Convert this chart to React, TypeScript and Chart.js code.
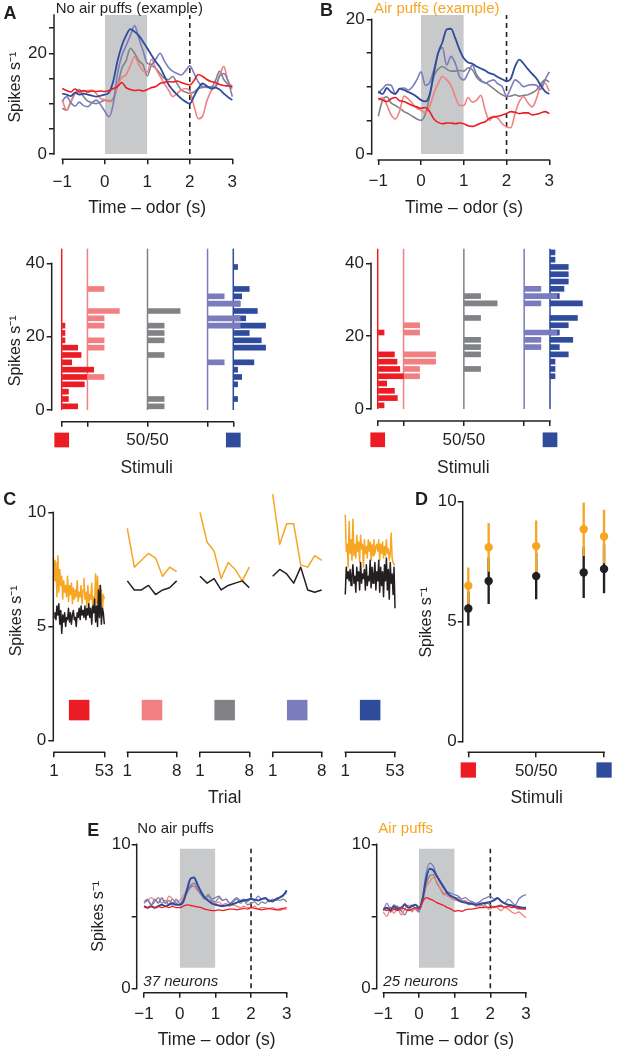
import React, { useEffect, useRef } from 'react';
import { Chart, registerables } from 'chart.js';

Chart.register(...registerables);

const FAMILY = '"Liberation Sans", Arial, Helvetica, sans-serif';
Chart.defaults.font.family = FAMILY;
Chart.defaults.color = '#231F20';

// ---------- colours ----------
const INK = '#231F20';
const RED = '#EC1C24';
const PINK = '#F27F81';
const GRAY = '#808285';
const LAV = '#7B7CBD';
const BLUE = '#2E4B9C';
const ORANGE = '#F6A623';
const BOX = '#C8C9CB';

// ---------- shared categories ----------
const TIME = [-1, -0.9, -0.8, -0.7, -0.6, -0.5, -0.4, -0.3, -0.2, -0.1, 0, 0.1, 0.2, 0.3, 0.4, 0.5, 0.6, 0.7, 0.8, 0.9, 1, 1.1, 1.2, 1.3, 1.4, 1.5, 1.6, 1.7, 1.8, 1.9, 2, 2.1, 2.2, 2.3, 2.4, 2.5, 2.6, 2.7, 2.8, 2.9, 3];
const TIME_TICKS = [-1, 0, 1, 2, 3];
const TIME_LABELS = ['\u22121', '0', '1', '2', '3'];
const ODOR_WINDOW = [0, 1];
const TRACE_END = 2;
const STIM_MIX = [0, 15, 50, 85, 100];
const STIM_LABELS = ['', '', '50/50', '', ''];

// ---------- panel A (no air puffs, example) ----------
const A_RED = [13, 12.6, 12.3, 12.9, 12.4, 12.6, 12.3, 12.5, 12.4, 12.5, 12.4, 12.6, 13, 13.4, 14.2, 13.2, 12.8, 12.6, 12.7, 12.5, 12.8, 13.2, 13.4, 14, 14.2, 14.4, 14.3, 14.5, 14.2, 13.9, 13.7, 14.6, 15.8, 15.4, 14.8, 14.4, 14.2, 13.8, 13.6, 13.5, 13.4];
const A_PINK = [10.7, 8.7, 10.4, 12, 12.2, 12.4, 12.6, 12.7, 12, 11, 10.8, 10.4, 10.7, 13.5, 15.2, 15.7, 17.5, 19.3, 17.8, 16.5, 16.3, 18.8, 17, 15.4, 14, 12.7, 11.4, 12, 12.7, 13, 12.5, 9.5, 7, 7.5, 10.5, 12.5, 13.5, 15.5, 17.4, 14.4, 13.4];
const A_GRAY = [9.1, 8.7, 10.3, 12, 12.8, 11.4, 10.5, 10.2, 10, 10.3, 10.7, 10.5, 11, 13.5, 17, 18.5, 21, 20, 18.5, 17.7, 15.5, 17.5, 17, 16, 15, 14.8, 15.4, 14, 12.7, 12.3, 12, 12.3, 13, 13.2, 13.4, 13.2, 14.5, 16.4, 14.8, 13.8, 13];
const A_LAV = [10.5, 11.4, 10.2, 9.5, 10.3, 9.6, 9.4, 10.2, 10.7, 9.8, 8.5, 7.4, 10, 16, 19.5, 21.5, 23.5, 25.5, 23, 20.5, 18, 17.8, 18.8, 20, 18.5, 17.2, 16.4, 16, 15.7, 16.5, 17.5, 16, 14.3, 13.4, 13.2, 13.4, 13.2, 15.5, 16, 14.5, 11.4];
const A_BLUE = [12, 11.8, 11.5, 12.2, 11.8, 12, 11.8, 11.6, 11.4, 11.6, 11.8, 12.2, 14.5, 18.5, 21.5, 23.5, 24.8, 24.3, 23.5, 22.3, 21, 19.6, 18.3, 17.2, 15.5, 13.8, 12.7, 11.8, 11, 10.4, 10, 11.5, 13, 14, 13.5, 13, 13.2, 12.8, 12, 11.3, 10.7];

// ---------- panel B (air puffs, example) ----------
const B_RED = [8.3, 8, 7.8, 8.2, 8.4, 7.9, 7.8, 7.5, 7.2, 7, 6.8, 6.9, 6.3, 5.2, 4.7, 4.5, 4.6, 4.6, 4.5, 4.6, 4.5, 4.2, 4.1, 4.3, 4.6, 4.8, 5.3, 5.5, 5.6, 5.8, 6, 6.3, 6.2, 6, 6.1, 6.1, 5.8, 5.9, 6.1, 6.3, 6];
const B_PINK = [8, 8.4, 7.3, 5.8, 5.2, 6.4, 8.6, 8.2, 7.5, 6.8, 6.5, 6.1, 7, 9, 10.5, 11.5, 11, 10.2, 8.5, 7.2, 7.2, 8.4, 7.7, 8, 8.7, 6.5, 5, 5.6, 5.3, 4.5, 4, 3.9, 6, 7.8, 8.5, 7.6, 7, 8.2, 10.2, 10.5, 9.3];
const B_GRAY = [5.6, 8, 8.5, 7.6, 7.2, 6.8, 6.3, 6, 5.6, 5.2, 5, 5.9, 8.5, 11.5, 12.6, 13, 12.6, 12.3, 12.3, 12.4, 12.3, 12.8, 12.5, 11.4, 10.8, 10.6, 10.2, 9.7, 9.2, 8.8, 8.5, 8.6, 8.8, 8.6, 8.7, 8.8, 9.1, 9.5, 10.4, 11, 10.7];
const B_LAV = [9, 9.7, 10.3, 10.2, 9, 9.7, 9.8, 9.5, 10, 11, 12.2, 10.2, 10.6, 12.5, 15, 15.8, 13.2, 14.5, 13.5, 11.5, 11, 12, 13.2, 11.8, 11, 10.5, 10.8, 11, 10.4, 10, 8.6, 9.8, 11, 10.6, 10, 10.2, 10.3, 10.2, 9.6, 11, 12.2];
const B_BLUE = [9.3, 8.9, 9.8, 9.2, 8.9, 9.7, 9.5, 9.2, 8.9, 8.5, 8, 7.8, 8.8, 12, 15, 16.6, 18.5, 18.6, 17.2, 15.5, 14.2, 13.6, 13.4, 13, 12.7, 12.4, 12, 11.8, 11.4, 11.1, 10.8, 11.2, 13, 14, 13.4, 12.6, 11.9, 11.2, 10.2, 9.3, 8.9];

// ---------- histograms (bin centres, spikes/s; bar lengths in stimulus-axis units) ----------
const HA_RED_BINS = [1, 3, 5, 7, 9, 11, 13, 15, 17, 19, 21, 23];
const HA_RED_LEN = [9.3, 3.9, 3.9, 13.2, 14.6, 18.6, 5.8, 11.3, 9.3, 1.9, 1.9, 1.9];
const HA_PINK_BINS = [9, 17, 19, 23, 25, 27, 33];
const HA_PINK_LEN = [9.7, 9.7, 9.7, 9.7, 9.7, 18.6, 9.7];
const HA_GRAY_BINS = [1, 3, 15, 19, 21, 23, 27];
const HA_GRAY_LEN = [9.7, 9.7, 9.7, 9.7, 9.7, 9.7, 19];
const HA_LAV_BINS = [13, 23, 25, 29, 31];
const HA_LAV_LEN = [9.7, 19, 19, 19, 9.7];
const HA_BLUE_BINS = [3, 7, 9, 11, 13, 17, 19, 21, 23, 25, 27, 29, 31, 33, 39];
const HA_BLUE_LEN = [2.5, 2.5, 4.9, 2.5, 12, 18.8, 16.3, 9.3, 18.8, 7.2, 14, 3.9, 4.9, 9.3, 2.5];

const HB_RED_BINS = [1, 3, 5, 7, 9, 11, 13, 15, 21];
const HB_RED_LEN = [3.7, 11.4, 9.7, 5.2, 14.9, 12.8, 11.2, 9.7, 3.7];
const HB_PINK_BINS = [9, 11, 13, 15, 21, 23];
const HB_PINK_LEN = [9.3, 9.3, 18.6, 18.6, 9.3, 9.3];
const HB_GRAY_BINS = [11, 15, 17, 19, 25, 29, 31];
const HB_GRAY_LEN = [9.7, 9.7, 9.7, 9.7, 9.7, 19.3, 9.7];
const HB_LAV_BINS = [17, 19, 21, 29, 31, 33];
const HB_LAV_LEN = [9.7, 9.7, 19, 9.7, 19, 9.7];
const HB_BLUE_BINS = [9, 11, 13, 15, 17, 19, 21, 23, 25, 29, 31, 33, 35, 37, 39, 41, 43];
const HB_BLUE_LEN = [2.9, 2.9, 2.9, 10.6, 5.4, 13.2, 5.4, 10.6, 15.9, 18.8, 5.4, 8.1, 10.6, 10.6, 10.6, 2.9, 2.9];
const HIST_TOP = 44;

// ---------- panel C (per-trial rates) ----------
const C_RED_AIR = [7.9, 7.0, 7.8, 6.3, 8.1, 6.5, 7.5, 6.8, 7.2, 6.2, 7.0, 6.5, 6.8, 6.3, 7.2, 6.1, 6.8, 6.4, 6.9, 6.0, 6.7, 6.2, 6.6, 6.3, 7.0, 6.1, 6.5, 6.3, 6.8, 6.0, 6.6, 7.1, 6.2, 6.5, 5.9, 6.8, 6.0, 6.4, 6.2, 6.9, 5.8, 6.3, 6.1, 7.3, 6.0, 7.2, 5.7, 6.8, 6.2, 6.6, 5.5, 6.4, 6.2];
const C_RED_NO = [5.4, 5.6, 5.3, 5.9, 5.5, 6.0, 5.1, 5.7, 4.7, 5.5, 5.2, 5.6, 5.0, 5.4, 5.3, 5.8, 5.2, 5.6, 5.1, 5.5, 5.7, 5.3, 5.4, 5.0, 5.6, 5.4, 5.8, 5.3, 5.9, 5.5, 5.7, 5.4, 5.9, 5.3, 5.8, 5.5, 6.0, 5.4, 5.8, 5.1, 5.9, 5.6, 6.2, 5.2, 5.9, 5.0, 6.6, 5.4, 6.8, 5.1, 5.8, 5.6, 5.1];
const C_PINK_AIR = [9.3, 7.6, 7.9, 8.2, 8.0, 7.2, 7.6, 7.4];
const C_PINK_NO = [7.0, 6.6, 6.6, 6.8, 6.4, 6.6, 6.7, 7.0];
const C_GRAY_AIR = [10.0, 8.7, 8.3, 7.1, 7.8, 7.5, 7.0, 7.6];
const C_GRAY_NO = [7.2, 6.9, 7.1, 6.6, 6.8, 6.9, 7.0, 6.7];
const C_LAV_AIR = [10.8, 8.6, 9.5, 9.5, 7.7, 7.6, 8.1, 7.9];
const C_LAV_NO = [7.2, 7.5, 7.3, 6.9, 7.6, 6.6, 6.5, 6.6];
const C_BLUE_AIR = [9.9, 8.3, 8.6, 7.6, 9.6, 8.2, 8.8, 7.9, 9.7, 8.1, 8.6, 8.0, 9.0, 8.3, 8.7, 7.8, 9.0, 8.4, 8.6, 7.6, 8.8, 8.2, 8.5, 8.0, 8.8, 8.3, 8.7, 7.9, 8.6, 8.1, 8.8, 8.2, 8.5, 8.6, 8.3, 8.8, 7.9, 8.6, 8.2, 8.7, 8.0, 8.5, 8.1, 8.8, 8.2, 8.4, 7.9, 8.2, 9.1, 8.0, 7.8, 7.7, 7.7];
const C_BLUE_NO = [6.4, 7.6, 7.1, 7.4, 7.0, 7.5, 6.8, 7.3, 7.7, 6.9, 7.2, 6.5, 7.6, 7.0, 7.4, 6.6, 7.8, 6.9, 7.3, 7.1, 7.5, 6.6, 7.7, 6.8, 7.2, 7.0, 7.9, 6.7, 7.6, 6.9, 7.3, 7.8, 6.6, 7.4, 7.0, 7.9, 6.5, 7.6, 6.8, 7.4, 6.3, 7.7, 7.0, 8.0, 6.6, 7.5, 6.2, 7.8, 6.9, 7.3, 6.4, 7.6, 5.8];

// ---------- panel D (means +/- error) ----------
const D_AIR_MEAN = [6.5, 8.1, 8.15, 8.85, 8.55];
const D_AIR_ERR = [0.75, 1.0, 1.05, 1.1, 1.1];
const D_NO_MEAN = [5.55, 6.7, 6.9, 7.05, 7.2];
const D_NO_ERR = [0.7, 0.95, 0.95, 1.05, 1.0];

// ---------- panel E (population averages) ----------
const EL_RED = [5.7, 5.6, 5.7, 5.6, 5.7, 5.6, 5.7, 5.6, 5.7, 5.6, 5.6, 5.7, 5.8, 5.75, 5.7, 5.65, 5.6, 5.5, 5.45, 5.4, 5.4, 5.45, 5.4, 5.45, 5.5, 5.5, 5.45, 5.5, 5.55, 5.5, 5.6, 5.55, 5.5, 5.45, 5.5, 5.55, 5.5, 5.45, 5.5, 5.55, 5.6];
const EL_PINK = [6, 6.1, 6.3, 6.1, 6, 6.2, 5.9, 6.4, 6.2, 6, 6.1, 6.4, 6.8, 7.2, 7.1, 6.8, 6.5, 6.3, 6.1, 6, 5.9, 6, 5.8, 5.9, 5.7, 5.8, 5.7, 5.6, 5.7, 5.6, 5.6, 5.7, 5.5, 5.6, 5.6, 5.5, 5.6, 5.5, 5.4, 5.5, 5.5];
const EL_GRAY = [6, 6.2, 5.8, 6, 6.3, 5.9, 6.1, 5.8, 6.2, 5.9, 5.8, 6.2, 6.6, 7, 7.1, 6.8, 6.6, 6.3, 6.5, 6.2, 6.3, 6.4, 6.1, 6.2, 5.9, 6, 6.2, 5.9, 6.1, 5.8, 5.9, 6, 5.8, 6, 5.9, 6.1, 6, 6.2, 6.1, 6.2, 6];
const EL_LAV = [5.9, 6.1, 5.8, 6.2, 5.9, 6.3, 5.9, 6.1, 5.8, 6.2, 5.9, 6.1, 6.6, 7.1, 7.3, 6.9, 6.5, 6.2, 6.4, 6.1, 6, 6.3, 6.1, 6.2, 5.9, 6.1, 6.3, 6.1, 6.2, 6, 6.3, 6.1, 6.4, 6.2, 6.3, 6, 6.2, 6.1, 6.3, 6.5, 6.6];
const EL_BLUE = [5.7, 5.6, 5.7, 5.6, 5.7, 5.8, 5.7, 5.8, 5.9, 5.8, 5.8, 6, 6.8, 7.6, 7.7, 7.2, 6.7, 6.3, 6.1, 5.9, 5.8, 5.75, 5.7, 5.75, 5.8, 5.85, 5.95, 6.05, 6.1, 6.15, 6.2, 6.15, 6.1, 6.2, 6.25, 6.1, 6.05, 6.2, 6.3, 6.45, 6.8];
const ER_RED = [5.5, 5.4, 5.6, 5.5, 5.4, 5.6, 5.5, 5.4, 5.5, 5.6, 5.5, 6, 6.3, 6.2, 6.1, 5.95, 5.85, 5.75, 5.6, 5.5, 5.35, 5.4, 5.35, 5.45, 5.5, 5.5, 5.55, 5.6, 5.6, 5.65, 5.6, 5.65, 5.7, 5.7, 5.65, 5.7, 5.6, 5.65, 5.55, 5.5, 5.5];
const ER_PINK = [5.3, 5, 5.5, 5.2, 5.6, 5.1, 5.5, 5.8, 5.3, 5.6, 5.5, 6, 7, 7.4, 7.7, 7.4, 6.9, 6.6, 6.4, 6.3, 6.1, 6.2, 6, 6.1, 5.9, 6, 5.8, 5.7, 5.9, 5.6, 5.5, 5.7, 5.6, 5.4, 5.6, 5.5, 5.3, 5.2, 5.3, 5.1, 4.9];
const ER_GRAY = [5.4, 5.6, 5.3, 5.5, 5.7, 5.4, 5.1, 5.5, 5.4, 5.6, 5.4, 6, 7.2, 7.8, 7.9, 7.3, 6.9, 6.5, 6.7, 6.3, 6.2, 6.3, 6.1, 6, 5.8, 5.9, 5.7, 5.8, 5.7, 5.9, 5.8, 5.6, 5.7, 5.8, 5.6, 5.7, 5.8, 5.6, 5.5, 5.6, 5.5];
const ER_LAV = [5.4, 5.9, 5.5, 5.8, 5.6, 5.4, 5.9, 5.6, 5.8, 5.5, 5.3, 6.3, 8, 8.7, 8.5, 7.8, 7.3, 6.9, 6.7, 6.6, 6.5, 6.4, 6.2, 6.3, 6.1, 6, 5.9, 6, 6.2, 6.3, 6.4, 6.2, 6.3, 6.1, 5.9, 6.2, 6, 5.8, 6.2, 6.4, 6.5];
const ER_BLUE = [5.5, 5.6, 5.4, 5.7, 5.5, 5.6, 5.8, 5.6, 5.7, 5.8, 5.6, 6.2, 7.6, 8.3, 8.2, 7.8, 7.4, 7, 6.6, 6.4, 6.3, 6.1, 6, 5.95, 5.9, 5.85, 5.8, 5.85, 5.9, 5.95, 6, 6.1, 6.25, 6.05, 5.9, 5.8, 5.75, 5.7, 5.65, 5.6, 5.6];

// ---------- style constants ----------
const FS_TICK = 17;
const FS_YTITLE = 16;
const FS_XTITLE = 17.5;
const AXW = 1.5;
const SPIKES = 'Spikes s\u207B\u00B9';
const f = (size: number, style = '') => `${style} ${size}px ${FAMILY}`.trim();

type Txt = { text: string; x: number; y: number; font: string; color?: string; align?: CanvasTextAlign; base?: CanvasTextBaseline; rot?: number };
type Mark = { xv: number; yv?: number; cy?: number; size: number; color: string };
type Axis = { min: number; max: number; ticks: number[]; labels: string[]; line: [number, number]; pad: number; title?: string; titleAt?: number; display?: boolean };
type Spec = { box: [number, number, number, number]; area: [number, number, number, number]; x: Axis; y: Axis; datasets: any[]; texts?: Txt[]; marks?: Mark[] };

// ---------- dataset helpers ----------
const trace = (xs: number[], ys: number[], color: string, width: number, order: number, smooth = true) => ({
  type: 'line',
  data: xs.map((x, i) => ({ x, y: ys[i] })),
  borderColor: color,
  borderWidth: width,
  pointRadius: 0,
  fill: false,
  order,
  tension: 0,
  cubicInterpolationMode: smooth ? 'monotone' : 'default',
  borderJoinStyle: 'round',
});
const trialTrace = (ys: number[], color: string, order: number) =>
  trace(ys.map((_v, i) => i + 1), ys, color, 1.5, order, false);
const shade = (x0: number, x1: number, y0: number, y1: number) => ({
  type: 'line',
  data: [{ x: x0, y: y1 }, { x: x1, y: y1 }],
  fill: { value: y0 },
  backgroundColor: BOX,
  borderWidth: 0,
  pointRadius: 0,
  order: 50,
});
const vdash = (x: number, y0: number, y1: number) => ({
  type: 'line',
  data: [{ x, y: y0 }, { x, y: y1 }],
  borderColor: INK,
  borderWidth: 1.6,
  borderDash: [5, 4],
  pointRadius: 0,
  order: 40,
});
const histGroup = (base: number, bins: number[], lens: number[], color: string, order: number) => [
  {
    type: 'line',
    data: [{ x: base, y: 0 }, { x: base, y: HIST_TOP }],
    borderColor: color,
    borderWidth: 1.5,
    pointRadius: 0,
    clip: false,
    order: 30 + order,
  },
  {
    type: 'bar',
    indexAxis: 'y',
    grouped: false,
    data: bins.map((c, i) => ({ y: c, x: [base, base + lens[i]] })),
    backgroundColor: color,
    borderWidth: 0,
    barPercentage: 1,
    categoryPercentage: 1,
    maxBarThickness: 5,
    clip: false,
    order,
  },
];
const psth = (red: number[], pink: number[], gray: number[], lav: number[], blue: number[], w: number, blueW: number) => [
  trace(TIME, gray, GRAY, w, 4),
  trace(TIME, pink, PINK, w, 3),
  trace(TIME, lav, LAV, w, 2),
  trace(TIME, blue, BLUE, blueW, 1),
  trace(TIME, red, RED, w, 0),
];

// ---------- panel specs ----------
const SPEC_A: Spec = {
  box: [0, 0, 262, 225],
  area: [54, 15, 240.3, 159.3],
  x: { min: -1.195, max: 3.188, ticks: TIME_TICKS, labels: TIME_LABELS, line: [-1, 3], pad: 8, title: 'Time \u2013 odor (s)', titleAt: 208 },
  y: { min: -1.05, max: 27.6, ticks: [0, 5, 10, 15, 20, 25], labels: ['0', '', '', '', '20', ''], line: [0, 27.6], pad: 2, title: SPIKES, titleAt: 15.5 },
  datasets: [shade(ODOR_WINDOW[0], ODOR_WINDOW[1], 0, 27.6), vdash(TRACE_END, 0, 27.6), ...psth(A_RED, A_PINK, A_GRAY, A_LAV, A_BLUE, 1.6, 1.8)],
  texts: [
    { text: 'A', x: 3.5, y: 19.3, font: f(18, 'bold') },
    { text: 'No air puffs (example)', x: 129.3, y: 12.5, font: f(15), align: 'center' },
  ],
};

const SPEC_B: Spec = {
  box: [310, 0, 270, 225],
  area: [371.7, 15, 556.3, 160],
  x: { min: -1.154, max: 3.164, ticks: TIME_TICKS, labels: TIME_LABELS, line: [-1, 3], pad: 6.5, title: 'Time \u2013 odor (s)', titleAt: 208 },
  y: { min: -0.89, max: 20.64, ticks: [0, 5, 10, 15, 20], labels: ['0', '', '', '', '20'], line: [0, 20], pad: 2 },
  datasets: [shade(ODOR_WINDOW[0], ODOR_WINDOW[1], 0, 20.64), vdash(TRACE_END, 0, 20.64), ...psth(B_RED, B_PINK, B_GRAY, B_LAV, B_BLUE, 1.6, 1.8)],
  texts: [
    { text: 'B', x: 320, y: 16, font: f(18, 'bold') },
    { text: 'Air puffs (example)', x: 436.7, y: 12.5, font: f(15), align: 'center', color: ORANGE },
  ],
};

const SPEC_HA: Spec = {
  box: [0, 225, 290, 265],
  area: [51.7, 246.8, 241.7, 421.7],
  x: { min: -5.83, max: 104.9, ticks: STIM_MIX, labels: STIM_LABELS, line: [0, 100], pad: 3.8, title: 'Stimuli', titleAt: 468 },
  y: { min: -3.19, max: 44.5, ticks: [0, 20, 40], labels: ['0', '20', '40'], line: [0, 40], pad: 2 },
  datasets: [
    ...histGroup(STIM_MIX[4], HA_BLUE_BINS, HA_BLUE_LEN, BLUE, 2),
    ...histGroup(STIM_MIX[3], HA_LAV_BINS, HA_LAV_LEN, LAV, 1),
    ...histGroup(STIM_MIX[2], HA_GRAY_BINS, HA_GRAY_LEN, GRAY, 3),
    ...histGroup(STIM_MIX[1], HA_PINK_BINS, HA_PINK_LEN, PINK, 4),
    ...histGroup(STIM_MIX[0], HA_RED_BINS, HA_RED_LEN, RED, 0),
  ],
  texts: [{ text: SPIKES, x: 15.5, y: 350.8, font: f(FS_YTITLE), align: 'center', base: 'middle', rot: -Math.PI / 2 }],
  marks: [
    { xv: 0, cy: 440, size: 14.7, color: RED },
    { xv: 100, cy: 440, size: 14.7, color: BLUE },
  ],
};

const SPEC_HB: Spec = {
  box: [310, 225, 300, 265],
  area: [371, 247, 555.7, 421],
  x: { min: -3.89, max: 103.3, ticks: STIM_MIX, labels: STIM_LABELS, line: [0, 100], pad: 4.5, title: 'Stimuli', titleAt: 468 },
  y: { min: -3.29, max: 44.48, ticks: [0, 20, 40], labels: ['0', '20', '40'], line: [0, 40], pad: 2 },
  datasets: [
    ...histGroup(STIM_MIX[4], HB_BLUE_BINS, HB_BLUE_LEN, BLUE, 2),
    ...histGroup(STIM_MIX[3], HB_LAV_BINS, HB_LAV_LEN, LAV, 1),
    ...histGroup(STIM_MIX[2], HB_GRAY_BINS, HB_GRAY_LEN, GRAY, 3),
    ...histGroup(STIM_MIX[1], HB_PINK_BINS, HB_PINK_LEN, PINK, 4),
    ...histGroup(STIM_MIX[0], HB_RED_BINS, HB_RED_LEN, RED, 0),
  ],
  marks: [
    { xv: 0, cy: 439.8, size: 14.7, color: RED },
    { xv: 100, cy: 439.8, size: 14.7, color: BLUE },
  ],
};

const C_Y: Axis = { min: -0.508, max: 11, ticks: [0, 5, 10], labels: ['0', '5', '10'], line: [0, 10], pad: 2, title: SPIKES, titleAt: 16.7 };
const C_Y_HIDDEN: Axis = { ...C_Y, display: false, title: undefined };
const C_SQ = 1.34;

const cSpec = (box: [number, number, number, number], area: [number, number, number, number], xmin: number, xmax: number, air: number[], no: number[], color: string, first: boolean, extra: Partial<Spec> = {}, title?: string): Spec => ({
  box,
  area,
  x: { min: xmin, max: xmax, ticks: [1, air.length], labels: ['1', String(air.length)], line: [1, air.length], pad: 4.2, title, titleAt: title ? 798 : undefined },
  y: first ? C_Y : C_Y_HIDDEN,
  datasets: [trialTrace(no, INK, 0), trialTrace(air, ORANGE, 1)],
  marks: [{ xv: (1 + air.length) / 2, yv: C_SQ, size: 20.5, color }],
  ...extra,
});

const SPEC_C1 = cSpec([0, 470, 122, 345], [53.3, 489.5, 106, 752.3], 0.276, 54.76, C_RED_AIR, C_RED_NO, RED, true, {
  texts: [{ text: 'C', x: 3.3, y: 505, font: f(18, 'bold') }],
});
const SPEC_C2 = cSpec([108, 470, 84, 345], [125, 489.5, 179, 752.3], 0.674, 8.326, C_PINK_AIR, C_PINK_NO, PINK, false);
const SPEC_C3 = cSpec([180, 470, 85, 345], [197.7, 489.5, 251.6, 752.3], 0.673, 8.327, C_GRAY_AIR, C_GRAY_NO, GRAY, false, {}, 'Trial');
const SPEC_C4 = cSpec([253, 470, 85, 345], [270.4, 489.5, 324, 752.3], 0.671, 8.329, C_LAV_AIR, C_LAV_NO, LAV, false);
const SPEC_C5 = cSpec([325, 470, 92, 345], [344, 489.5, 397, 752.3], -0.36, 55.09, C_BLUE_AIR, C_BLUE_NO, BLUE, false);

const errBars = (means: number[], errs: number[], color: string, order: number) => ({
  type: 'bar',
  grouped: false,
  data: STIM_MIX.map((x, i) => ({ x, y: [means[i] - errs[i], means[i] + errs[i]] })),
  backgroundColor: color,
  borderWidth: 0,
  barPercentage: 1,
  categoryPercentage: 1,
  maxBarThickness: 1.7,
  order,
});
const dots = (means: number[], color: string, order: number) => ({
  type: 'line',
  showLine: false,
  data: STIM_MIX.map((x, i) => ({ x, y: means[i] })),
  pointRadius: 4.2,
  pointBackgroundColor: color,
  pointBorderWidth: 0,
  borderColor: color,
  order,
});

const SPEC_D: Spec = {
  box: [400, 480, 217, 335],
  area: [462.7, 492.1, 610.7, 752.3],
  x: { min: -4.13, max: 104.9, ticks: [0, 50, 100], labels: ['', '50/50', ''], line: [0, 100], pad: 4.2, title: 'Stimuli', titleAt: 798 },
  y: { min: -0.44, max: 10.4, ticks: [0, 5, 10], labels: ['0', '5', '10'], line: [0, 10], pad: 1, title: SPIKES, titleAt: 426.7 },
  datasets: [dots(D_AIR_MEAN, ORANGE, 0), dots(D_NO_MEAN, INK, 1), errBars(D_AIR_MEAN, D_AIR_ERR, ORANGE, 2), errBars(D_NO_MEAN, D_NO_ERR, INK, 3)],
  texts: [{ text: 'D', x: 415, y: 505, font: f(18, 'bold') }],
  marks: [
    { xv: 0, cy: 770, size: 15.3, color: RED },
    { xv: 100, cy: 770, size: 15.3, color: BLUE },
  ],
};

const E_Y: Axis = { min: -0.306, max: 10.3, ticks: [0, 5, 10], labels: ['0', '', '10'], line: [0, 10], pad: 1 };

const SPEC_EL: Spec = {
  box: [60, 810, 250, 242],
  area: [136.7, 840, 296.7, 992.7],
  x: { min: -1.205, max: 3.28, ticks: TIME_TICKS, labels: TIME_LABELS, line: [-1, 3], pad: 6.1, title: 'Time \u2013 odor (s)', titleAt: 1040 },
  y: { ...E_Y, title: SPIKES, titleAt: 98.5 },
  datasets: [shade(ODOR_WINDOW[0], ODOR_WINDOW[1], 1.43, 9.7), vdash(TRACE_END, 0, 9.7), ...psth(EL_RED, EL_PINK, EL_GRAY, EL_LAV, EL_BLUE, 1.3, 2)],
  texts: [
    { text: 'E', x: 87.3, y: 836, font: f(18, 'bold') },
    { text: 'No air puffs', x: 137.3, y: 833, font: f(15) },
    { text: '37 neurons', x: 143.3, y: 986, font: f(15, 'italic') },
  ],
};

const SPEC_ER: Spec = {
  box: [310, 810, 250, 242],
  area: [376.7, 840, 533.3, 992.7],
  x: { min: -1.186, max: 3.205, ticks: TIME_TICKS, labels: TIME_LABELS, line: [-1, 3], pad: 6.1, title: 'Time \u2013 odor (s)', titleAt: 1040 },
  y: E_Y,
  datasets: [shade(ODOR_WINDOW[0], ODOR_WINDOW[1], 1.43, 9.7), vdash(TRACE_END, 0, 9.7), ...psth(ER_RED, ER_PINK, ER_GRAY, ER_LAV, ER_BLUE, 1.3, 2)],
  texts: [
    { text: 'Air puffs', x: 378.3, y: 833, font: f(15), color: ORANGE },
    { text: '25 neurons', x: 383.3, y: 986, font: f(15, 'italic') },
  ],
};

const SPECS: Spec[] = [SPEC_A, SPEC_B, SPEC_HA, SPEC_HB, SPEC_C1, SPEC_C2, SPEC_C3, SPEC_C4, SPEC_C5, SPEC_D, SPEC_EL, SPEC_ER];

// ---------- chart construction ----------
function decor(s: Spec) {
  const [L, T] = s.box;
  return {
    id: 'decor',
    afterDraw(chart: any) {
      const { ctx, chartArea: ca, scales } = chart;
      const xs = scales.x;
      const ys = scales.y;
      ctx.save();
      ctx.strokeStyle = INK;
      ctx.lineWidth = AXW;
      ctx.lineCap = 'square';
      ctx.beginPath();
      ctx.moveTo(xs.getPixelForValue(s.x.line[0]), ca.bottom);
      ctx.lineTo(xs.getPixelForValue(s.x.line[1]), ca.bottom);
      ctx.stroke();
      if (s.y.display !== false) {
        ctx.beginPath();
        ctx.moveTo(ca.left, ys.getPixelForValue(s.y.line[0]));
        ctx.lineTo(ca.left, ys.getPixelForValue(s.y.line[1]));
        ctx.stroke();
      }
      (s.marks || []).forEach((m) => {
        const cx = xs.getPixelForValue(m.xv);
        const cy = m.yv !== undefined ? ys.getPixelForValue(m.yv) : (m.cy as number) - T;
        ctx.fillStyle = m.color;
        ctx.fillRect(cx - m.size / 2, cy - m.size / 2, m.size, m.size);
      });
      (s.texts || []).forEach((tx) => {
        ctx.save();
        ctx.font = tx.font;
        ctx.fillStyle = tx.color || INK;
        ctx.textAlign = tx.align || 'left';
        ctx.textBaseline = tx.base || 'alphabetic';
        ctx.translate(tx.x - L, tx.y - T);
        if (tx.rot) ctx.rotate(tx.rot);
        ctx.fillText(tx.text, 0, 0);
        ctx.restore();
      });
      ctx.restore();
    },
  };
}

function build(s: Spec): any {
  const [L, T, W, H] = s.box;
  const [l, t, r, b] = s.area;
  const yShow = s.y.display !== false;
  const lhX = FS_XTITLE * 1.2;
  const lhY = FS_YTITLE * 1.2;
  const zero = (sc: any) => {
    sc.paddingTop = 0;
    sc.paddingBottom = 0;
    sc.paddingLeft = 0;
    sc.paddingRight = 0;
  };
  const grid = { display: true, drawOnChartArea: false, drawTicks: true, tickLength: 5, color: INK, lineWidth: AXW, tickColor: INK, tickWidth: AXW, offset: false };
  const tickOpts = (ax: Axis) => ({
    autoSkip: false,
    maxRotation: 0,
    minRotation: 0,
    padding: ax.pad,
    font: { size: FS_TICK },
    color: INK,
    callback: (_v: any, i: number) => ax.labels[i],
  });
  return {
    type: 'line',
    data: { datasets: s.datasets },
    plugins: [decor(s)],
    options: {
      animation: false,
      responsive: false,
      maintainAspectRatio: false,
      events: [],
      layout: { padding: { top: t - T, right: L + W - r, bottom: 0, left: yShow ? 0 : l - L } },
      plugins: { legend: { display: false }, tooltip: { enabled: false }, title: { display: false } },
      scales: {
        x: {
          type: 'linear',
          min: s.x.min,
          max: s.x.max,
          offset: false,
          bounds: 'data',
          beginAtZero: false,
          border: { display: false },
          grid,
          ticks: tickOpts(s.x),
          afterBuildTicks: (sc: any) => {
            sc.ticks = s.x.ticks.map((v) => ({ value: v }));
          },
          title: s.x.title
            ? { display: true, text: s.x.title, font: { size: FS_XTITLE }, color: INK, padding: { top: 0, bottom: T + H - (s.x.titleAt as number) - lhX / 2 } }
            : { display: false },
          afterFit: (sc: any) => {
            sc.height = T + H - b;
            zero(sc);
          },
        },
        y: {
          type: 'linear',
          display: yShow,
          min: s.y.min,
          max: s.y.max,
          offset: false,
          bounds: 'data',
          beginAtZero: false,
          border: { display: false },
          grid,
          ticks: tickOpts(s.y),
          afterBuildTicks: (sc: any) => {
            sc.ticks = s.y.ticks.map((v) => ({ value: v }));
          },
          title: s.y.title && yShow
            ? { display: true, text: s.y.title, font: { size: FS_YTITLE }, color: INK, padding: { top: (s.y.titleAt as number) - L - lhY / 2, bottom: 0 } }
            : { display: false },
          afterFit: (sc: any) => {
            sc.width = yShow ? l - L : 0;
            zero(sc);
          },
        },
      },
    },
  };
}

export default function App() {
  const refs = useRef<(HTMLCanvasElement | null)[]>([]);
  useEffect(() => {
    const charts = SPECS.map((s, i) => new Chart(refs.current[i] as HTMLCanvasElement, build(s)));
    return () => charts.forEach((c) => c.destroy());
  }, []);
  return (
    <div style={{ position: 'absolute', left: 0, top: 0, width: 617, height: 1052, background: '#fff', overflow: 'hidden' }}>
      {SPECS.map((s, i) => (
        <canvas
          key={i}
          ref={(el) => {
            refs.current[i] = el;
          }}
          width={s.box[2]}
          height={s.box[3]}
          style={{ position: 'absolute', left: s.box[0], top: s.box[1], width: s.box[2], height: s.box[3] }}
        />
      ))}
    </div>
  );
}
